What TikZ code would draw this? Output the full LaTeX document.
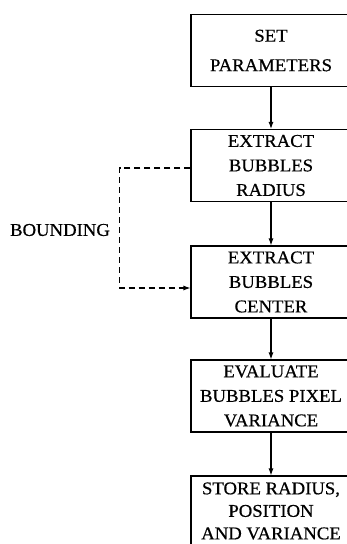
\documentclass[tikz,border=0pt]{standalone}
\usepackage{fontspec}
\setmainfont{Liberation Serif}[FakeStretch=1.04,FakeBold=0.6]
\usetikzlibrary{arrows.meta}

\begin{document}
\begin{tikzpicture}[x=1pt,y=-1pt,>={Latex[length=7pt,width=5pt]},
	stage/.style={draw,line width=1.1pt,minimum width=160pt,minimum height=72pt,
		inner sep=0pt,align=center,font=\fontsize{18}{24.5}\selectfont}]
			\useasboundingbox (0,0) rectangle (347,544);
			\node[stage] (P) at (271,50.5) {SET\\[5pt]PARAMETERS};
			\node[stage] (R) at (271,165.5) {EXTRACT\\BUBBLES\\RADIUS};
			\node[stage] (C) at (271,282) {EXTRACT\\BUBBLES\\CENTER};
			\node[stage] (V) at (271,396) {EVALUATE\\BUBBLES PIXEL\\VARIANCE};
			\node[stage,minimum height=70pt,font=\fontsize{18}{22.5}\selectfont] (S) at (271,511) {STORE RADIUS,\\POSITION\\AND VARIANCE};
			\node[font=\fontsize{18}{22}\selectfont] (B) at (60,230) {BOUNDING};
			\coordinate (b1) at (119.5,168);
			\coordinate (b2) at (119.5,288);
			%
			\path[->,line width=1.1pt]
				(P) edge (R)
				(R) edge (C)
				(C) edge (V)
				(V) edge (S);
			\draw[->,line width=1.1pt,dash pattern=on 6pt off 4pt]
				(R.west |- b1) -- (b1) -- (b2) -- (C.west |- b2);
		\end{tikzpicture}
\end{document}
